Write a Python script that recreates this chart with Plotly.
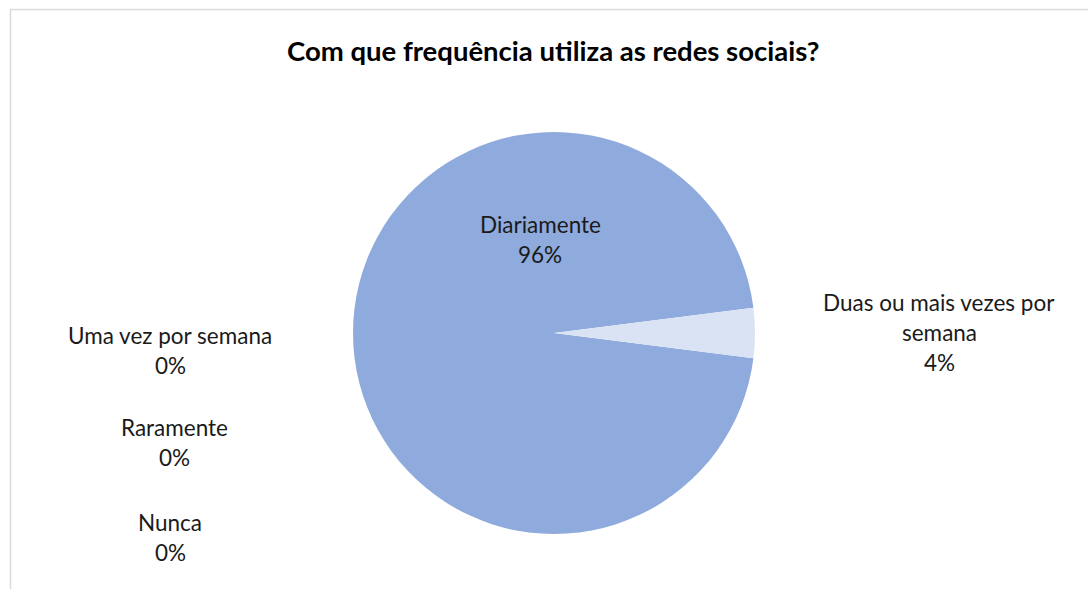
import plotly.graph_objects as go

# Survey answers and their shares (%)
categories = ["Diariamente", "Duas ou mais vezes por semana", "Uma vez por semana", "Raramente", "Nunca"]
shares = [96, 4, 0, 0, 0]
slice_colors = ["#8FAADC", "#DAE3F3", "#B4C7E7", "#2F5597", "#4472C4"]

# Label text lines (category lines then percentage) and their anchor points in pixels
label_lines = [
    ["Diariamente"],
    ["Duas ou mais vezes por", "semana"],
    ["Uma vez por semana"],
    ["Raramente"],
    ["Nunca"],
]
label_anchor_px = [(540, 224), (939, 302), (170, 335), (174, 427), (170, 522)]

W, H = 1088, 589
FONT = "Lato"
LINE_STEP = 30

fig = go.Figure()
fig.add_trace(go.Pie(
    labels=categories,
    values=shares,
    sort=False,
    direction="clockwise",
    rotation=97.2,
    marker=dict(colors=slice_colors, line=dict(width=0)),
    textinfo="none",
    hoverinfo="label+percent",
    showlegend=False,
    domain=dict(x=[(554 - 201) / W, (554 + 201) / W],
                y=[(H - 333 - 201) / H, (H - 333 + 201) / H]),
))

annotations = []
for lines, share, (px, py) in zip(label_lines, shares, label_anchor_px):
    all_lines = lines + [f"{share}%"]
    for i, line in enumerate(all_lines):
        annotations.append(dict(
            x=px / W, y=1 - (py + i * LINE_STEP) / H,
            xref="paper", yref="paper",
            text=line, showarrow=False,
            xanchor="center", yanchor="middle",
            font=dict(family=FONT, size=22.5, color="#1a1a1a"),
        ))

annotations.append(dict(
    x=553 / W, y=1 - 50 / H, xref="paper", yref="paper",
    text="<b>Com que frequência utiliza as redes sociais?</b>",
    showarrow=False, xanchor="center", yanchor="middle",
    font=dict(family=FONT, size=27.5, color="#000000"),
))

fig.update_layout(
    width=W, height=H,
    margin=dict(l=0, r=0, t=0, b=0),
    paper_bgcolor="white",
    plot_bgcolor="white",
    annotations=annotations,
    shapes=[dict(type="rect", xref="paper", yref="paper",
                 x0=10.5 / W, x1=1.1, y0=-0.1, y1=1 - 9.5 / H,
                 line=dict(color="#D9D9D9", width=1.5), fillcolor="rgba(0,0,0,0)")],
)

fig.write_html("out.html")
